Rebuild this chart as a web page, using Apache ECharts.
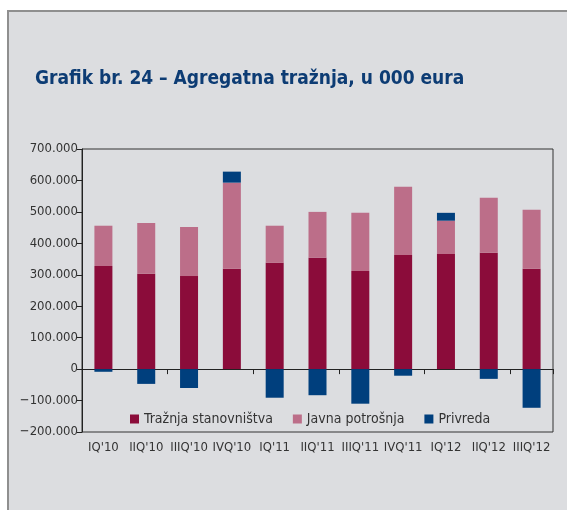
<!DOCTYPE html>
<html lang="sr">
<head>
  <meta charset="UTF-8">
  <title>Grafik br. 24</title>
  <script src="https://cdn.jsdelivr.net/npm/echarts@6/dist/echarts.min.js"></script>
  <style>
    body { margin: 0; background: #fff; }
    #panel { position: absolute; left: 7px; top: 10px; width: 570px; height: 510px;
             background: #dcdde0; border-top: 2px solid #8f8f8f; border-left: 2px solid #8f8f8f; }
    #container { position: absolute; left: 0; top: 0; width: 567px; height: 510px; }
  </style>
</head>
<body>
  <div id="panel"></div>
  <div id="container"></div>
  <script>
    // kvartali
    var quarters = ["IQ'10", "IIQ'10", "IIIQ'10", "IVQ'10", "IQ'11", "IIQ'11", "IIIQ'11", "IVQ'11", "IQ'12", "IIQ'12", "IIIQ'12"];
    // u 000 eura
    var stanovnistvo = [328000, 303000, 296000, 319000, 338000, 354000, 312000, 363000, 366000, 370000, 319000];
    var javna = [128000, 162000, 156000, 274000, 118000, 146000, 185000, 217000, 106000, 175000, 188000];
    var privreda = [-8500, -47000, -60000, 35000, -91000, -83000, -110000, -21000, 25000, -31000, -123000];

    var font = "'Liberation Sans Narrow', 'DejaVu Sans Condensed', sans-serif";

    function fmt(v) {
      var s = Math.abs(v).toString().replace(/\B(?=(\d{3})+(?!\d))/g, '.');
      return (v < 0 ? '\u2212' : '') + s;
    }

    var myChart = echarts.init(document.getElementById('container'));
    myChart.setOption({
      textStyle: { fontFamily: font },
      title: {
        text: 'Grafik br. 24 – Agregatna tražnja, u 000 eura',
        left: 30,
        top: 65,
        textStyle: { fontSize: 19, fontWeight: 'bold', color: '#0d3c74', fontFamily: font }
      },
      legend: {
        left: 125,
        top: 407,
        itemWidth: 9,
        itemHeight: 9,
        itemGap: 20,
        icon: 'rect',
        textStyle: { fontSize: 14, color: '#333', fontFamily: font },
        data: ['Tražnja stanovništva', 'Javna potrošnja', 'Privreda']
      },
      grid: {
        left: 82, right: 14, top: 149, bottom: 78,
        show: true, borderColor: '#333', borderWidth: 1
      },
      xAxis: [
        {
          type: 'category',
          data: quarters,
          axisLine: { onZero: true, lineStyle: { color: '#222', width: 1 } },
          axisTick: { show: true, length: 5, lineStyle: { color: '#222' } },
          axisLabel: { show: false }
        },
        {
          type: 'category',
          data: quarters,
          position: 'bottom',
          axisLine: { show: false, onZero: false },
          axisTick: { show: false },
          axisLabel: { fontSize: 13, color: '#333', margin: 9, interval: 0, fontFamily: font }
        }
      ],
      yAxis: {
        type: 'value',
        min: -200000,
        max: 700000,
        interval: 100000,
        splitLine: { show: false },
        axisLine: { show: true, lineStyle: { color: '#222' } },
        axisTick: { show: true, length: 5, lineStyle: { color: '#222' } },
        axisLabel: { fontSize: 13, color: '#333', margin: 4, formatter: fmt, fontFamily: font }
      },
      series: [
        { name: 'Tražnja stanovništva', type: 'bar', stack: 'ukupno', data: stanovnistvo,
          barWidth: 18, itemStyle: { color: '#8b0c3a' } },
        { name: 'Javna potrošnja', type: 'bar', stack: 'ukupno', data: javna,
          itemStyle: { color: '#bc6e89' } },
        { name: 'Privreda', type: 'bar', stack: 'ukupno', data: privreda,
          itemStyle: { color: '#003f7d' } }
      ]
    });
  </script>
</body>
</html>
